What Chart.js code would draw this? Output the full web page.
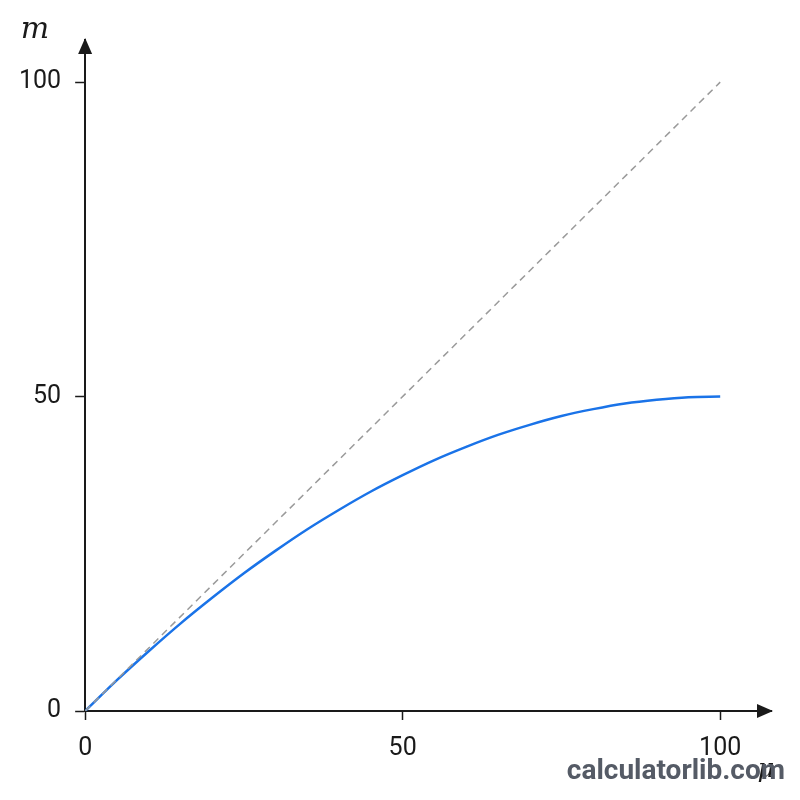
<!DOCTYPE html>
<html>
<head>
<meta charset="utf-8">
<script src="https://cdn.jsdelivr.net/npm/chart.js@4/dist/chart.umd.min.js"></script>
<style>
  html, body { margin: 0; padding: 0; background: #fff; }
  #wrap { width: 800px; height: 800px; }
</style>
</head>
<body>
<div id="wrap"><canvas id="myChart" width="800" height="800"></canvas></div>
<script>
// values
const uValues = [0, 5, 10, 15, 20, 25, 30, 35, 40, 45, 50, 55, 60, 65, 70, 75, 80, 85, 90, 95, 100];
const mValues = [0, 4.9, 9.5, 13.9, 18, 21.9, 25.5, 28.9, 32, 34.9, 37.5, 39.9, 42, 43.9, 45.5, 46.9, 48, 48.9, 49.5, 49.9, 50];
const refU = [0, 100];
const refM = [0, 100];
const xTicks = [0, 50, 100];
const yTicks = [0, 50, 100];

const ink = '#1a1a1a';
const font = "Roboto, 'Noto Sans', sans-serif";

const arrowsAndText = {
  id: 'arrowsAndText',
  afterDraw(chart) {
    const ctx = chart.ctx;
    const { left, right, top, bottom } = chart.chartArea;
    ctx.save();
    ctx.fillStyle = ink;
    // x arrow
    ctx.beginPath();
    ctx.moveTo(right + 2, bottom);
    ctx.lineTo(right - 14, bottom - 7);
    ctx.lineTo(right - 14, bottom + 7);
    ctx.closePath();
    ctx.fill();
    // y arrow
    ctx.beginPath();
    ctx.moveTo(left, top - 2);
    ctx.lineTo(left - 7, top + 14);
    ctx.lineTo(left + 7, top + 14);
    ctx.closePath();
    ctx.fill();

    ctx.font = "italic 30px 'DejaVu Serif', serif";
    ctx.textAlign = 'center';
    ctx.textBaseline = 'middle';
    ctx.fillText('m', 35, 30);
    ctx.font = "italic 26px 'DejaVu Serif', serif";
    ctx.fillText('μ', 766, 770);

    ctx.font = "bold 28px " + font;
    ctx.fillStyle = '#555b66';
    ctx.textAlign = 'right';
    ctx.fillText('calculatorlib.com', 785, 772);
    ctx.restore();
  }
};

new Chart(document.getElementById('myChart').getContext('2d'), {
  type: 'line',
  data: {
    datasets: [
      {
        data: refU.map((u, i) => ({ x: u, y: refM[i] })),
        borderColor: '#9a9a9a',
        borderWidth: 1.5,
        borderDash: [7, 5],
        pointRadius: 0,
        fill: false
      },
      {
        data: uValues.map((u, i) => ({ x: u, y: mValues[i] })),
        borderColor: '#1a73e8',
        borderWidth: 2.5,
        pointRadius: 0,
        cubicInterpolationMode: 'monotone',
        fill: false
      }
    ]
  },
  options: {
    responsive: false,
    animation: false,
    layout: { padding: { left: 5, right: 29, top: 40, bottom: 22 } },
    plugins: { legend: { display: false }, tooltip: { enabled: false } },
    scales: {
      x: {
        type: 'linear',
        min: 0,
        max: 108,
        afterBuildTicks: (axis) => { axis.ticks = xTicks.map(v => ({ value: v })); },
        grid: { display: true, drawOnChartArea: false, drawTicks: true, tickLength: 9, color: ink, tickWidth: 1.5 },
        border: { display: true, color: ink, width: 2 },
        ticks: { color: ink, font: { family: font, size: 25 }, padding: 14, maxRotation: 0 }
      },
      y: {
        type: 'linear',
        min: 0,
        max: 106.7,
        afterBuildTicks: (axis) => { axis.ticks = yTicks.map(v => ({ value: v })); },
        grid: { display: true, drawOnChartArea: false, drawTicks: true, tickLength: 10, color: ink, tickWidth: 1.5 },
        border: { display: true, color: ink, width: 2 },
        ticks: { color: ink, font: { family: font, size: 25 }, padding: 14 }
      }
    }
  },
  plugins: [arrowsAndText]
});
</script>
</body>
</html>
